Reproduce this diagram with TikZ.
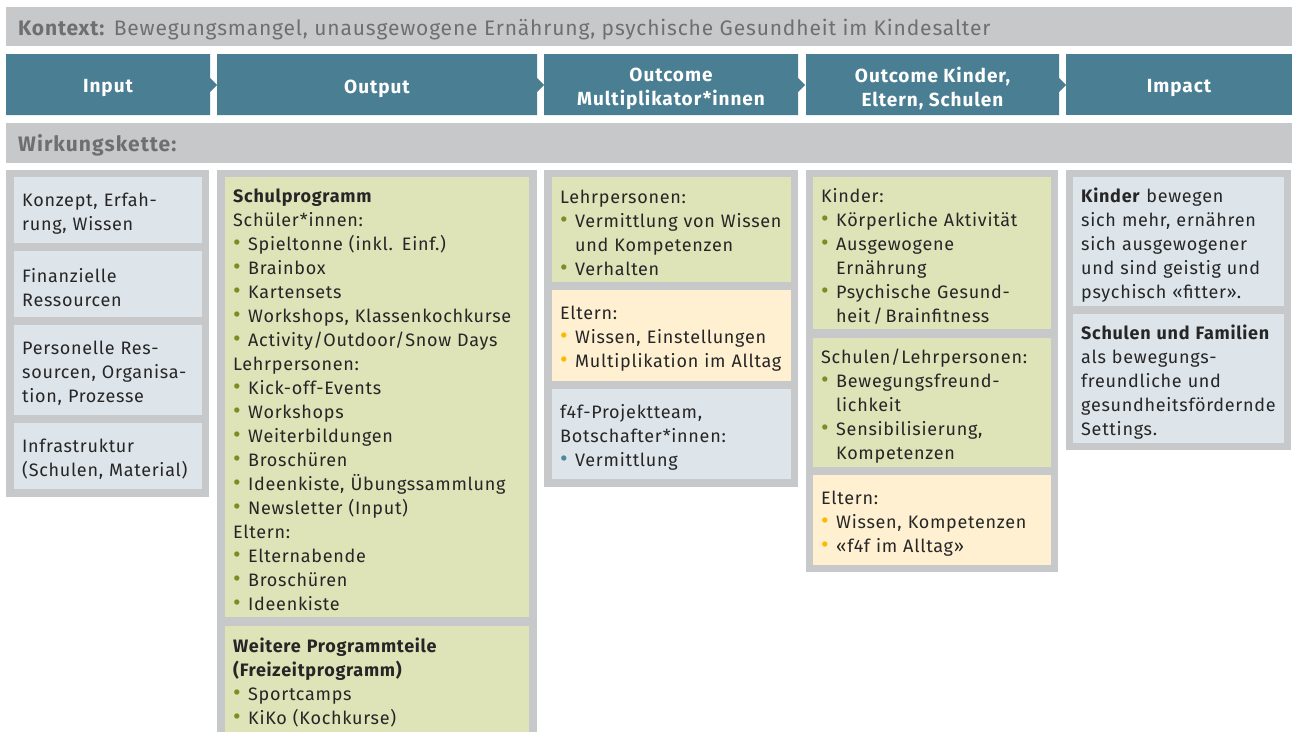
\documentclass[tikz,border=0pt]{standalone}
\usepackage{fontspec}
\setmainfont{Fira Sans}[LetterSpace=4]

\definecolor{bargray}{HTML}{C7C8CA}
\definecolor{headteal}{HTML}{4A7E93}
\definecolor{cellblue}{HTML}{DDE4EA}
\definecolor{cellgreen}{HTML}{DEE3B8}
\definecolor{cellyellow}{HTML}{FFF0D2}
\definecolor{dotgreen}{HTML}{7F8C24}
\definecolor{dotyellow}{HTML}{FBB900}
\definecolor{dotblue}{HTML}{4F86A0}
\definecolor{textdark}{HTML}{262626}
\definecolor{kontextgray}{HTML}{6E6F71}

\newcommand{\bodyfont}{\fontsize{18}{24}\selectfont}
\newcommand{\bulg}{\makebox[15pt][l]{\textcolor{dotgreen}{\scalebox{1.3}{\textbullet}}}}
\newcommand{\buly}{\makebox[15pt][l]{\textcolor{dotyellow}{\scalebox{1.3}{\textbullet}}}}
\newcommand{\bulb}{\makebox[15pt][l]{\textcolor{dotblue}{\scalebox{1.3}{\textbullet}}}}
\newcommand{\ind}{\hspace*{15pt}}

\tikzset{
  cell/.style={anchor=north west, inner xsep=8pt, inner ysep=0pt,
    align=left, font=\bodyfont, text=textdark},
  headtext/.style={align=center, font=\fontsize{19}{24}\selectfont\bfseries\addfontfeatures{LetterSpace=5},
    text=white},
  bartext/.style={anchor=west, inner xsep=0pt, font=\fontsize{21}{24}\selectfont, text=kontextgray}
}

% cell: name, x1, y1, x2, y2, fill, text
\newcommand{\cellbox}[7]{%
  \pgfmathsetmacro\ch{#5-#3}\pgfmathsetmacro\tw{#4-#2-16}%
  \fill[#6] (#2,#3) rectangle (#4,#5);
  \node[cell, minimum height=\ch pt, text width=\tw pt, yshift=-3pt]
    (#1) at (#2,#3) {#7};}

% header chevron: name, x1, x2, text
\newcommand{\headbox}[4]{%
  \fill[headteal] (#2,54) -- (#3,54) -- (#3,78) -- (#3+7,85) -- (#3,92) -- (#3,115)
    -- (#2,115) -- cycle;
  \node[headtext] (#1) at ({(#2+#3)/2},88.5) {#4};}

\begin{document}
\begin{tikzpicture}[x=1pt, y=-1pt]
    \useasboundingbox (0,0) rectangle (1292,731);
    \clip (0,0) rectangle (1292,731);

    % Kontext bar
    \fill[bargray] (6,7) rectangle (1292,46);
    \node[bartext] (kontext) at (18,30)
      {\textbf{Kontext:} Bewegungsmangel, unausgewogene Ernährung, psychische Gesundheit im Kindesalter};

    % header chevrons
    \headbox{hinput}{6}{210}{Input}
    \headbox{houtput}{217}{537}{Output}
    \headbox{hmulti}{544}{798}{Outcome\\Multiplikator*innen}
    \headbox{hkinder}{806}{1059}{Outcome Kinder,\\Eltern, Schulen}
    \fill[headteal] (1066,54) rectangle (1292,115);
    \node[headtext] (himpact) at (1179,88.5) {Impact};

    % Wirkungskette bar
    \fill[bargray] (6,123) rectangle (1292,163);
    \node[bartext, font=\fontsize{21}{24}\selectfont\bfseries\addfontfeatures{LetterSpace=5}]
      (wirkung) at (18,145) {Wirkungskette:};

    % column frames
    \fill[bargray] (6,170) rectangle (209,497);
    \fill[bargray] (217,170) rectangle (537,740);
    \fill[bargray] (544,170) rectangle (798,487);
    \fill[bargray] (806,170) rectangle (1058,572);
    \fill[bargray] (1066,170) rectangle (1291,450);

    % Input
    \cellbox{konzept}{14}{177}{202}{243}{cellblue}{Konzept, Erfah-\\rung, Wissen}
    \cellbox{finanz}{14}{251}{202}{317}{cellblue}{Finanzielle\\Ressourcen}
    \cellbox{personal}{14}{325}{202}{415}{cellblue}{Personelle Res-\\sourcen, Organisa-\\tion, Prozesse}
    \cellbox{infra}{14}{423}{202}{489}{cellblue}{Infrastruktur\\(Schulen, Material)}

    % Output
    \cellbox{schulprog}{225}{177}{529}{617}{cellgreen}{\textbf{Schulprogramm}\\
      Schüler*innen:\\ \bulg Spieltonne (inkl. Einf.)\\ \bulg Brainbox\\ \bulg Kartensets\\
      \bulg Workshops, Klassenkochkurse\\ \bulg Activity/Outdoor/Snow Days\\
      Lehrpersonen:\\ \bulg Kick-off-Events\\ \bulg Workshops\\ \bulg Weiterbildungen\\
      \bulg Broschüren\\ \bulg Ideenkiste, Übungssammlung\\ \bulg Newsletter (Input)\\
      Eltern:\\ \bulg Elternabende\\ \bulg Broschüren\\ \bulg Ideenkiste}
    \cellbox{freizeit}{225}{626}{529}{733}{cellgreen}{\textbf{Weitere Programmteile}\\
      \textbf{(Freizeitprogramm)}\\ \bulg Sportcamps\\ \bulg KiKo (Kochkurse)}

    % Outcome Multiplikator*innen
    \cellbox{mlehr}{552}{177}{791}{282}{cellgreen}{Lehrpersonen:\\
      \bulg Vermittlung von Wissen\\ \ind und Kompetenzen\\ \bulg Verhalten}
    \cellbox{meltern}{552}{290}{791}{381}{cellyellow}{Eltern:\\
      \buly Wissen, Einstellungen\\ \buly Multiplikation im Alltag}
    \cellbox{mteam}{552}{389}{791}{479}{cellblue}{f4f-Projektteam,\\
      Botschafter*innen:\\ \bulb Vermittlung}

    % Outcome Kinder, Eltern, Schulen
    \cellbox{kkinder}{813}{177}{1051}{329}{cellgreen}{Kinder:\\
      \bulg Körperliche Aktivität\\ \bulg Ausgewogene\\ \ind Ernährung\\
      \bulg Psychische Gesund-\\ \ind heit\,/\,Brainfitness}
    \cellbox{kschulen}{813}{338}{1051}{467}{cellgreen}{Schulen/Lehrpersonen:\\
      \bulg Bewegungsfreund-\\ \ind lichkeit\\ \bulg Sensibilisierung,\\ \ind Kompetenzen}
    \cellbox{keltern}{813}{475}{1051}{565}{cellyellow}{Eltern:\\
      \buly Wissen, Kompetenzen\\ \buly «f4f im Alltag»}

    % Impact
    \cellbox{ikinder}{1073}{177}{1284}{306}{cellblue}{\textbf{Kinder} bewegen\\
      sich mehr, ernähren\\ sich ausgewogener\\ und sind geistig und\\ psychisch «fitter».}
    \cellbox{ischulen}{1073}{314}{1284}{443}{cellblue}{\textbf{Schulen und Familien}\\
      als bewegungs-\\ freundliche und\\ gesundheitsfördernde\\ Settings.}
\end{tikzpicture}
\end{document}
